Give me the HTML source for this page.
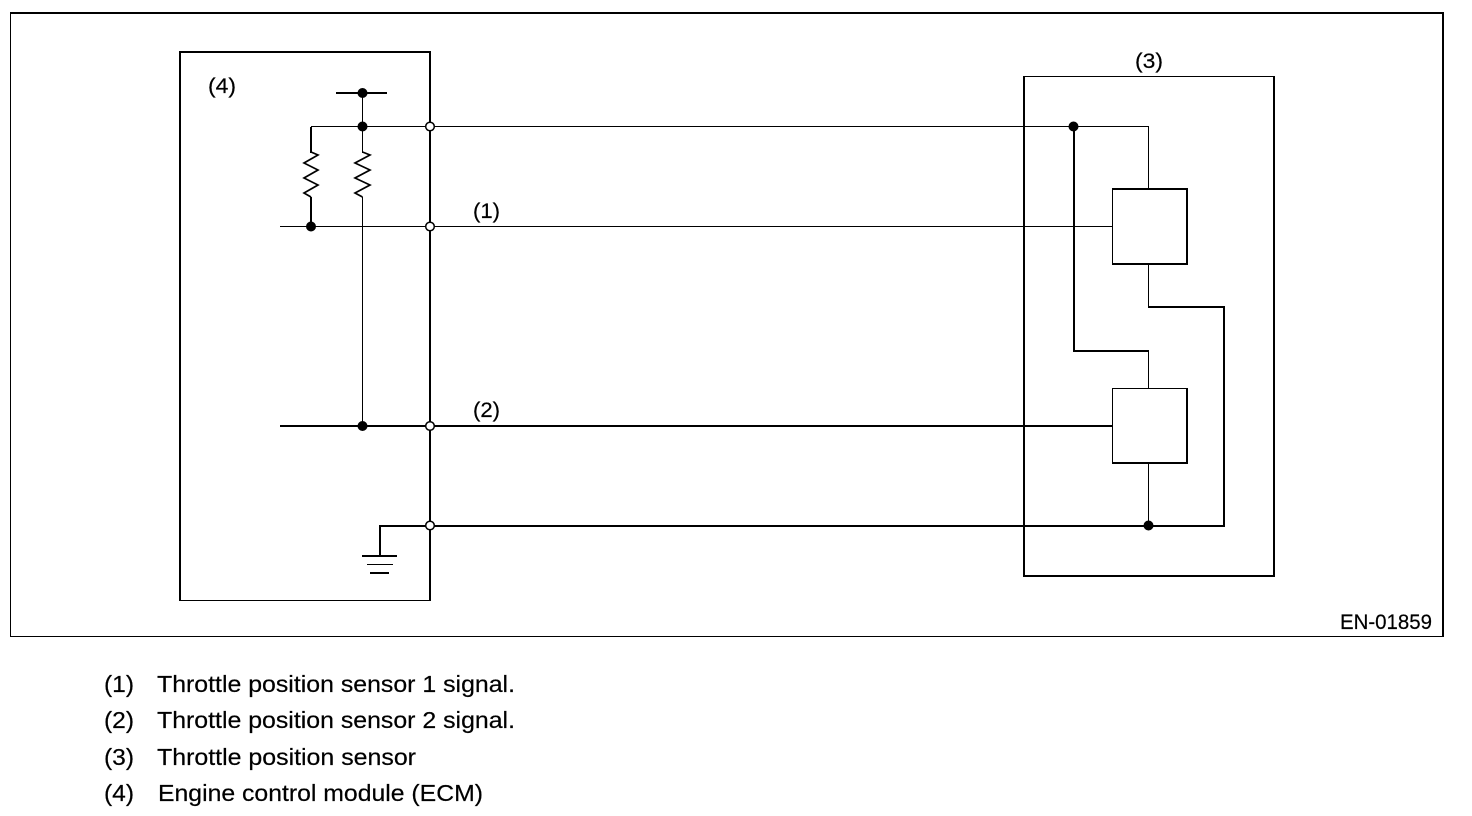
<!DOCTYPE html>
<html>
<head>
<meta charset="utf-8">
<title>Throttle position sensor circuit</title>
<style>
html,body{margin:0;padding:0;background:#fff;width:1472px;height:816px;overflow:hidden}
svg{display:block}
text{font-family:"Liberation Sans",sans-serif;fill:#000;stroke:#000;stroke-width:.2px}
.a{font-size:21px}
.b{font-size:23px}
</style>
</head>
<body>
<svg width="1472" height="816" viewBox="0 0 1472 816" xmlns="http://www.w3.org/2000/svg">
<rect width="1472" height="816" fill="#fff"/>
<g fill="#000" shape-rendering="crispEdges">
  <!-- outer frame -->
  <rect x="10" y="12" width="1434" height="2"/>
  <rect x="10" y="12" width="1" height="625"/>
  <rect x="1442" y="12" width="2" height="625"/>
  <rect x="10" y="636" width="1434" height="1"/>
  <!-- ECM -->
  <rect x="179" y="51" width="252" height="2"/>
  <rect x="179" y="51" width="2" height="550"/>
  <rect x="429" y="51" width="2" height="550"/>
  <rect x="179" y="600" width="252" height="1"/>
  <!-- sensor -->
  <rect x="1023" y="76" width="252" height="1"/>
  <rect x="1023" y="76" width="2" height="501"/>
  <rect x="1273" y="76" width="2" height="501"/>
  <rect x="1023" y="575" width="252" height="2"/>
  <!-- box 1 -->
  <rect x="1112" y="188" width="76" height="2"/>
  <rect x="1112" y="188" width="1" height="77"/>
  <rect x="1186" y="188" width="2" height="77"/>
  <rect x="1112" y="263" width="76" height="2"/>
  <!-- box 2 -->
  <rect x="1112" y="388" width="76" height="1"/>
  <rect x="1112" y="388" width="1" height="76"/>
  <rect x="1186" y="388" width="2" height="76"/>
  <rect x="1112" y="462" width="76" height="2"/>
</g>
<g fill="none" stroke="#000" stroke-width="2" shape-rendering="crispEdges">
  <path d="M336 93H387"/>
  <path d="M311 127V153M311 197V227"/>
  <path d="M280 426H1113"/>
  <path d="M380 555V526H1224V307H1148"/>
  <path d="M1074 127V351H1149"/>
  <path d="M362 556H397M370 573H389"/>
</g>
<g fill="none" stroke="#000" stroke-width="1" shape-rendering="crispEdges">
  <path d="M311 126.500H1148.500V189"/>
  <path d="M280 226.500H1113"/>
  <path d="M362.500 93V153M362.500 197V426"/>
  <path d="M1148.500 264V307M1148.500 351V389M1148.500 463V526"/>
  <path d="M367 564.500H393"/>
</g>
<!-- resistors -->
<g fill="none" stroke="#000" stroke-width="1.700">
  <path d="M311 152L318 155L304 163L318 170L304 178L318 185L304 193L311 197"/>
  <path d="M362.500 152L370 155L355 163L370 170L355 178L370 185L355 193L362.500 197"/>
</g>
<!-- junctions -->
<g fill="#000">
  <circle cx="362.500" cy="93" r="5"/>
  <circle cx="362.500" cy="126.500" r="5"/>
  <circle cx="311" cy="226.500" r="5"/>
  <circle cx="362.500" cy="426" r="5"/>
  <circle cx="1073.500" cy="126.500" r="5"/>
  <circle cx="1148.500" cy="525.500" r="5"/>
</g>
<g fill="#fff" stroke="#000" stroke-width="1.500">
  <circle cx="430" cy="126.500" r="4.300"/>
  <circle cx="430" cy="226.500" r="4.300"/>
  <circle cx="430" cy="426" r="4.300"/>
  <circle cx="430" cy="525.500" r="4.300"/>
</g>
<!-- labels -->
<text class="a" x="208" y="93" textLength="28" lengthAdjust="spacingAndGlyphs">(4)</text>
<text class="a" x="1135" y="68" textLength="28" lengthAdjust="spacingAndGlyphs">(3)</text>
<text class="a" x="473" y="218" textLength="27" lengthAdjust="spacingAndGlyphs">(1)</text>
<text class="a" x="473" y="417" textLength="27" lengthAdjust="spacingAndGlyphs">(2)</text>
<text class="a" x="1340" y="629" textLength="92" lengthAdjust="spacingAndGlyphs">EN-01859</text>
<!-- legend -->
<text class="b" x="104" y="692" textLength="30" lengthAdjust="spacingAndGlyphs">(1)</text>
<text class="b" x="157" y="692" textLength="358" lengthAdjust="spacingAndGlyphs">Throttle position sensor 1 signal.</text>
<text class="b" x="104" y="728" textLength="30" lengthAdjust="spacingAndGlyphs">(2)</text>
<text class="b" x="157" y="728" textLength="358" lengthAdjust="spacingAndGlyphs">Throttle position sensor 2 signal.</text>
<text class="b" x="104" y="765" textLength="30" lengthAdjust="spacingAndGlyphs">(3)</text>
<text class="b" x="157" y="765" textLength="259" lengthAdjust="spacingAndGlyphs">Throttle position sensor</text>
<text class="b" x="104" y="801" textLength="30" lengthAdjust="spacingAndGlyphs">(4)</text>
<text class="b" x="158" y="801" textLength="325" lengthAdjust="spacingAndGlyphs">Engine control module (ECM)</text>
</svg>
</body>
</html>
